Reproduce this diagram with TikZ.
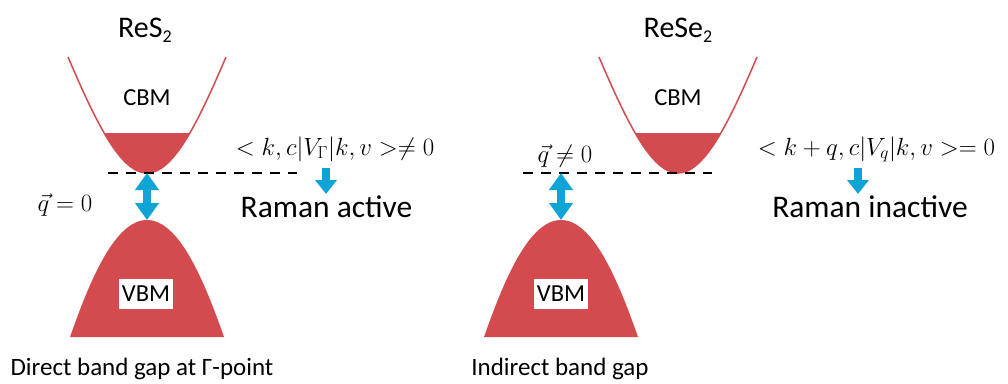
\documentclass[tikz,border=0pt]{standalone}
\usepackage{fontspec}
\setmainfont{Carlito}
\usetikzlibrary{arrows.meta}
\definecolor{bandred}{RGB}{211,75,78}
\definecolor{arrowblue}{RGB}{14,164,214}
\newcommand{\lowsub}[1]{\raisebox{-5pt}{\fontsize{18}{20}\selectfont #1}}
\begin{document}
\begin{tikzpicture}[x=1pt,y=-1pt,
  bandline/.style={draw=bandred, line width=1.5pt},
  bandfill/.style={fill=bandred},
  gapline/.style={draw=black, line width=1.2pt, dash pattern=on 10pt off 8pt},
  bigarrow/.style={draw=arrowblue, line width=8pt, {Triangle[width=23pt,length=17pt]}-{Triangle[width=23pt,length=17pt]}},
  smallarrow/.style={draw=arrowblue, line width=8.5pt, -{Triangle[width=21pt,length=14pt]}},
  title/.style={font=\fontsize{30}{34}\selectfont, anchor=base},
  label/.style={font=\fontsize{24.5}{28}\selectfont, anchor=base},
  boxlabel/.style={font=\fontsize{24.5}{28}\selectfont, fill=white, inner sep=0pt, minimum width=54pt, minimum height=30pt},
  mathlabel/.style={font=\fontsize{24}{28}\selectfont, anchor=base, inner sep=0pt},
  raman/.style={font=\fontsize{31.5}{36}\selectfont, anchor=base, inner sep=0pt},
  caption/.style={font=\fontsize{25}{29}\selectfont, anchor=base, inner sep=0pt}]
\useasboundingbox (0,0) rectangle (1008,383);

% ---------- left panel (ReS2) ----------
\node[title] (titleL) at (145,37) {ReS\lowsub{2}};
\begin{scope}[shift={(147,173)}]
  \begin{scope}
    \clip (-100,-40) rectangle (100,5);
    \fill[bandfill] (-79,-116) .. controls (-52,-53) and (-27,0) .. (0,0) .. controls (27,0) and (52,-53) .. (79,-116) -- cycle;
  \end{scope}
  \draw[bandline] (-79,-116) .. controls (-52,-53) and (-27,0) .. (0,0) .. controls (27,0) and (52,-53) .. (79,-116);
  \coordinate (cbmL) at (0,0);
\end{scope}
\node[label] (cbmtxtL) at (147,105) {CBM};
\begin{scope}[shift={(147,220)}]
  \fill[bandfill] (-77,117) .. controls (-57,60) and (-32,0) .. (0,0) .. controls (32,0) and (57,60) .. (77,117) -- cycle;
  \coordinate (vbmL) at (0,0);
\end{scope}
\node[boxlabel] (vbmtxtL) at (146,294) {VBM};
\coordinate (dashL1) at (108,173);
\coordinate (dashL2) at (297,173);
\draw[gapline] (dashL1) -- (dashL2);
\draw[bigarrow] (cbmL) -- (vbmL);
\node[mathlabel] (qL) at (65,211) {$\vec{q}=0$};
\node[mathlabel] (mathL) at (335,155) {$<k,c|V_\Gamma|k,v>\neq 0$};
\coordinate (aL1) at (326,168);
\coordinate (aL2) at (326,194);
\draw[smallarrow] (aL1) -- (aL2);
\node[raman] (ramanL) at (326.5,217) {Raman active};
\node[caption] (capL) at (142,375) {Direct band gap at Γ-point};

% ---------- right panel (ReSe2) ----------
\node[title] (titleR) at (678,37) {ReSe\lowsub{2}};
\begin{scope}[shift={(678,173)}]
  \begin{scope}
    \clip (-100,-40) rectangle (100,5);
    \fill[bandfill] (-79,-116) .. controls (-52,-53) and (-27,0) .. (0,0) .. controls (27,0) and (52,-53) .. (79,-116) -- cycle;
  \end{scope}
  \draw[bandline] (-79,-116) .. controls (-52,-53) and (-27,0) .. (0,0) .. controls (27,0) and (52,-53) .. (79,-116);
\end{scope}
\node[label] (cbmtxtR) at (678,105) {CBM};
\begin{scope}[shift={(561,220)}]
  \fill[bandfill] (-77,117) .. controls (-57,60) and (-32,0) .. (0,0) .. controls (32,0) and (57,60) .. (77,117) -- cycle;
  \coordinate (vbmR) at (0,0);
\end{scope}
\node[boxlabel] (vbmtxtR) at (561,294) {VBM};
\coordinate (dashR1) at (523,173);
\coordinate (dashR2) at (712,173);
\draw[gapline] (dashR1) -- (dashR2);
\coordinate (gapR) at (561,173);
\draw[bigarrow] (gapR) -- (vbmR);
\node[mathlabel] (qR) at (565,162) {$\vec{q}\neq 0$};
\node[mathlabel] (mathR) at (876.5,155) {$<k+q,c|V_q|k,v>= 0$};
\coordinate (aR1) at (858,168);
\coordinate (aR2) at (858,194);
\draw[smallarrow] (aR1) -- (aR2);
\node[raman] (ramanR) at (870,217) {Raman inactive};
\node[caption] (capR) at (560,375) {Indirect band gap};
\end{tikzpicture}
\end{document}
